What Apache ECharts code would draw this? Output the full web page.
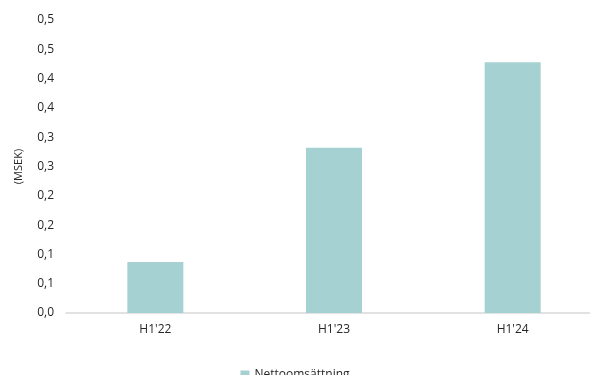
<!DOCTYPE html>
<html>
<head>
<meta charset="utf-8">
<script src="https://cdn.jsdelivr.net/npm/echarts@6/dist/echarts.min.js"></script>
<style>
  html, body { margin: 0; padding: 0; background: #fff; }
  #chart { width: 590px; height: 375px; }
</style>
</head>
<body>
<div id="chart"></div>
<script>
var categories = ["H1'22", "H1'23", "H1'24"];
var nettoomsattning = [0.087, 0.282, 0.428];
var yTickLabels = ['0,0', '0,1', '0,1', '0,2', '0,2', '0,3', '0,3', '0,4', '0,4', '0,5', '0,5'];

var myChart = echarts.init(document.getElementById('chart'));
var font = '"Open Sans", Lato, sans-serif';
option = {
  animation: false,
  textStyle: { fontFamily: font },
  grid: { left: 66, right: -12, top: 20, bottom: 62, outerBoundsMode: 'none', containLabel: false },
  legend: {
    top: 364,
    left: 'center',
    itemWidth: 9,
    itemHeight: 9,
    itemGap: 10,
    icon: 'rect',
    textStyle: { fontSize: 12, color: '#262626', fontFamily: font },
    data: ['Nettoomsättning']
  },
  xAxis: {
    type: 'category',
    data: categories,
    axisLine: { lineStyle: { color: '#d9d9d9', width: 1.5 } },
    axisTick: { show: false },
    axisLabel: { color: '#262626', fontSize: 12, margin: 11, fontFamily: font }
  },
  yAxis: {
    type: 'value',
    min: 0,
    max: 0.5,
    interval: 0.05,
    name: '(MSEK)',
    nameLocation: 'middle',
    nameGap: 42,
    nameRotate: 90,
    nameTextStyle: { color: '#262626', fontSize: 11, fontFamily: font },
    splitLine: { show: false },
    axisLine: { show: false },
    axisTick: { show: false },
    axisLabel: {
      color: '#262626',
      fontSize: 12,
      margin: 12,
      fontFamily: font,
      formatter: function (v) { return yTickLabels[Math.round(v / 0.05)]; }
    }
  },
  series: [
    {
      name: 'Nettoomsättning',
      type: 'bar',
      data: nettoomsattning,
      barWidth: 56,
      itemStyle: { color: '#a6d1d2' }
    }
  ]
};
myChart.setOption(option, true);
</script>
</body>
</html>
